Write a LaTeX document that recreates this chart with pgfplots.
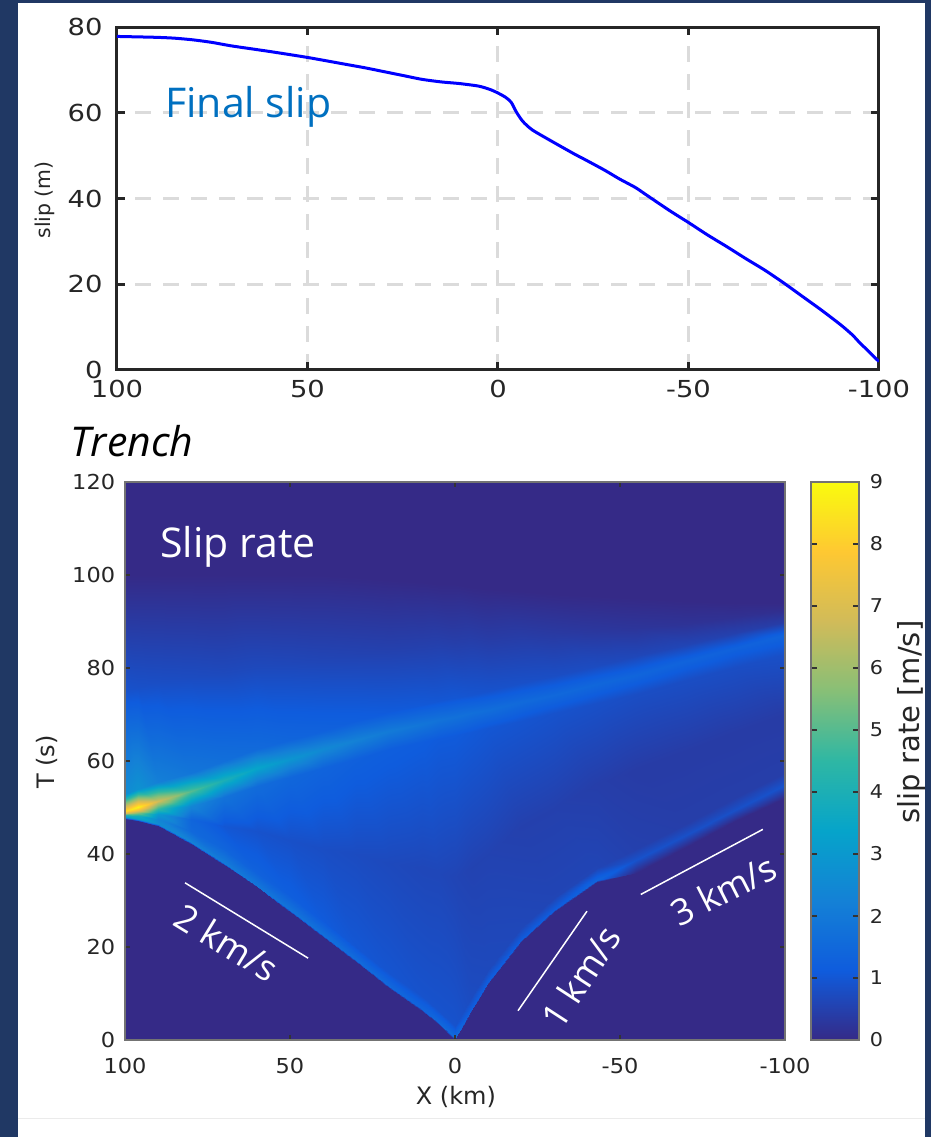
\documentclass[border=0pt]{standalone}
\usepackage{fontspec}
\setmainfont{DejaVu Sans}
\newfontfamily\os{Open Sans}
\usepackage{pgfplots}
\pgfplotsset{compat=1.18}
\definecolor{navy}{HTML}{203864}
\definecolor{pbg}{HTML}{352A87}
\definecolor{fsblue}{HTML}{0070C0}
\definecolor{frame}{HTML}{262626}
\begin{document}
\begin{tikzpicture}
\fill[navy] (0,0) rectangle (465.5pt,568.5pt);
\fill[white] (9pt,0) rectangle (462.5pt,567pt);
\draw[black!8, line width=0.5pt] (9pt,9pt) -- (462.5pt,9pt);

% ---------------- top panel: final slip ----------------
\begin{axis}[
  at={(58.5pt,383.5pt)}, anchor=south west, scale only axis,
  width=381pt, height=171.5pt,
  xmin=-100, xmax=100, ymin=0, ymax=80, x dir=reverse,
  xtick={-100,-50,0,50,100}, ytick={0,20,40,60,80},
  grid=major,
  major grid style={dash pattern=on 8pt off 6pt, line width=1.5pt, color=black!14},
  axis line style={line width=1.5pt, frame},
  tick style={line width=1.5pt, frame}, major tick length=4pt, tick align=inside,
  tick label style={font=\fontsize{11.7}{14}\selectfont, xscale=1.17, text=frame},
  /pgf/number format/assume math mode=true,
  xticklabel shift=1.6pt, yticklabel shift=3.1pt,
  ylabel={slip (m)},
  ylabel style={font=\fontsize{10.2}{12}\selectfont, at={(axis description cs:-0.0945,0.496)}, anchor=center, text=frame},
]
\addplot[color=blue, line width=1.5pt, smooth, tension=0.4] table {
x y
100 77.8
90 77.6
85 77.4
80 77.0
75 76.4
70 75.6
60 74.3
50 72.9
40 71.3
35 70.5
30 69.6
25 68.7
20 67.8
15 67.2
10 66.8
5 66.2
2 65.4
0 64.6
-2 63.6
-3.5 62.4
-4.8 60.2
-6.5 58.0
-9 56.0
-14.4 53.2
-20 50.4
-23 49.0
-28 46.6
-32 44.5
-36 42.6
-39 40.8
-45 37.2
-50 34.4
-55 31.5
-60 28.8
-65 26.0
-70 23.3
-75 20.3
-80 17.1
-85 13.9
-90 10.5
-93 8.2
-95 6.3
-97 4.6
-99 2.8
-100 2.0
};
\node[anchor=base west, inner sep=0pt, text=fsblue, font=\os\fontsize{20.5}{24}\selectfont] at (axis cs:87.4,59.0) {Final slip};
\end{axis}

% ---------------- bottom panel: slip rate ----------------
\begin{axis}[
  at={(62.5pt,48.5pt)}, anchor=south west, scale only axis,
  width=330pt, height=279pt,
  xmin=-100, xmax=100, ymin=0, ymax=120, x dir=reverse,
  xtick={-100,-50,0,50,100}, ytick={0,20,40,60,80,100,120},
  axis background/.style={fill=pbg},
  axis on top,
  axis line style={line width=0.6pt, black!55},
  tick style={line width=0.6pt, black!80}, major tick length=2.5pt, tick align=inside,
  tick label style={font=\fontsize{10.3}{12}\selectfont, xscale=1.09, text=frame},
  /pgf/number format/assume math mode=true,
  xticklabel shift=5.6pt, yticklabel shift=1.1pt,
  xlabel={X (km)}, ylabel={T (s)},
  xlabel style={font=\fontsize{12}{14}\selectfont, at={(axis description cs:0.5015,-0.102)}, anchor=center, text=frame},
  ylabel style={font=\fontsize{12}{14}\selectfont, at={(axis description cs:-0.118,0.498)}, anchor=center, text=frame},
  colormap={parula}{rgb255=(53,42,135) rgb255=(15,92,221) rgb255=(20,129,214) rgb255=(6,164,202) rgb255=(46,183,164) rgb255=(135,191,119) rgb255=(209,187,89) rgb255=(254,200,50) rgb255=(249,251,14)},
  point meta min=0, point meta max=9,
  colorbar,
  colorbar/width=24pt,
  colorbar style={
    at={(parent axis.north east)}, anchor=north west, xshift=4.5pt,
    ytick={0,1,2,3,4,5,6,7,8,9},
    /pgf/number format/assume math mode=true,
    axis line style={line width=0.6pt, black!55},
    tick style={line width=0.6pt, black!80}, major tick length=3pt, tick align=inside,
    yticklabel style={font=\fontsize{9.5}{11}\selectfont, text=frame},
    yticklabel shift=1.5pt,
  },
]
\addplot[surf, shader=interp, mesh/cols=22, point meta=explicit] table[meta=m] {
x y m
100 47.6 0
96 47.2 0
90 46.1 0
80 42.1 0
70 37.7 0
60 32.8 0
50 27.6 0
40 22.1 0
30 16.7 0
20 11.2 0
10 6.2 0
5 3.4 0
0 0.1 0
-5 6.1 0
-10 12.1 0
-20 21 0
-30 27.6 0
-43 34 0
-55 36 0
-70 41.5 0
-85 47 0
-100 52 0
100 48.0 3.0
96 47.6 3.2
90 46.5 2.6
80 42.5 2.3
70 38.1 2.1
60 33.2 1.95
50 28 1.85
40 22.5 1.75
30 17.1 1.6
20 11.6 1.5
10 6.6 1.4
5 3.8 1.5
0 0.5 1.6
-5 6.5 1.2
-10 12.5 1.2
-20 21.4 1.15
-30 28 1.15
-43 34.4 1.4
-55 38.7 0.9
-70 44.1 0.85
-85 49.5 0.85
-100 54.9 0.9
100 48.3 4.0
96 48.2 3.8
90 47.5 2.4
80 45 1.5
70 41 1.4
60 36 1.3
50 31 1.2
40 25.5 1.1
30 20 1.0
20 14.5 0.95
10 9.5 0.9
5 6.5 0.9
0 3 0.9
-5 9 0.75
-10 15 0.7
-20 24 0.65
-30 30.5 0.6
-43 37 0.6
-55 41 0.5
-70 46.5 0.45
-85 52 0.45
-100 57.5 0.45
100 48.6 5.5
96 48.8 5.5
90 48.5 3.0
80 47.5 1.4
70 46 1.0
60 45 0.9
50 43 0.85
40 41 0.8
30 40 0.75
20 38 0.7
10 37 0.65
5 36 0.65
0 35 0.6
-5 37 0.55
-10 40 0.55
-20 46 0.5
-30 50 0.5
-43 55 0.45
-55 58 0.4
-70 62 0.4
-85 66 0.4
-100 70 0.4
100 48.9 7.0
96 49.4 7.5
90 49.6 4.5
80 50.3 2.4
70 52.3 1.8
60 54.6 1.6
50 56.5 1.45
40 58.5 1.35
30 60.5 1.25
20 62.5 1.2
10 64 1.15
5 64.8 1.1
0 65.5 1.1
-5 66.3 1.05
-10 67 1.0
-20 68.7 0.95
-30 70.3 0.9
-43 72.5 0.85
-55 74.5 0.8
-70 77.5 0.8
-85 80.3 0.8
-100 83 0.85
100 49.3 8.3
96 50.2 8.8
90 51.5 6.8
80 53.5 5.0
70 56 4.0
60 58.5 3.4
50 60.5 2.9
40 62.5 2.5
30 64.5 2.25
20 66.5 2.05
10 68 1.9
5 68.8 1.8
0 69.5 1.75
-5 70.3 1.7
-10 71 1.65
-20 72.7 1.55
-30 74.3 1.5
-43 76.5 1.45
-55 78.5 1.4
-70 81.5 1.35
-85 84.3 1.3
-100 87 1.35
100 53 2.6
96 54 2.8
90 55.5 2.2
80 57.5 1.9
70 60 1.7
60 62.5 1.55
50 64.5 1.4
40 66.5 1.3
30 68.5 1.2
20 70.5 1.1
10 72 1.05
5 72.8 1.0
0 73.5 1.0
-5 74.3 0.95
-10 75 0.9
-20 76.7 0.85
-30 78.3 0.8
-43 80.5 0.75
-55 82.5 0.65
-70 85 0.6
-85 87.5 0.5
-100 90 0.4
100 75 0.9
96 76 0.85
90 77 0.8
80 78 0.75
70 79 0.7
60 80 0.7
50 81 0.65
40 82 0.6
30 83 0.55
20 84 0.5
10 84.5 0.5
5 85 0.5
0 85.5 0.45
-5 86 0.45
-10 86.5 0.4
-20 87 0.4
-30 87.5 0.35
-43 88 0.3
-55 88.5 0.25
-70 89.5 0.2
-85 91 0.15
-100 92.5 0.1
100 100 0
96 100 0
90 100 0
80 100 0
70 100 0
60 100 0
50 100 0
40 100 0
30 99.5 0
20 99 0
10 98.5 0
5 98 0
0 98 0
-5 97.5 0
-10 97 0
-20 96.5 0
-30 96 0
-43 95.5 0
-55 95 0
-70 94.5 0
-85 94 0
-100 94 0
};
% annotation lines
\addplot[white, line width=0.75pt] coordinates {(81.8,33.8) (44.5,17.6)};
\addplot[white, line width=0.75pt] coordinates {(-19.1,6.3) (-40,27.7)};
\addplot[white, line width=0.75pt] coordinates {(-56.3,31.3) (-93.3,45.3)};
\node[rotate=-31.4, text=white, font=\os\fontsize{18}{20}\selectfont] at (axis cs:69.1,20.9) {2 km/s};
\node[rotate=57, text=white, font=\os\fontsize{18}{20}\selectfont] at (axis cs:-38.2,13.5) {1 km/s};
\node[rotate=27, text=white, font=\os\fontsize{18}{20}\selectfont] at (axis cs:-81.4,32.3) {3 km/s};
\node[anchor=base west, inner sep=0pt, text=white, font=\os\fontsize{20.5}{24}\selectfont] at (axis cs:89.4,103.7) {Slip rate};
\end{axis}

\node[anchor=base west, inner sep=0pt, font=\os\itshape\fontsize{20.5}{24}\selectfont] at (35pt,340pt) {Trench};
\node[rotate=90, text=frame, font=\fontsize{14.5}{17}\selectfont] at (455.5pt,207.5pt) {slip rate [m/s]};
\end{tikzpicture}
\end{document}
